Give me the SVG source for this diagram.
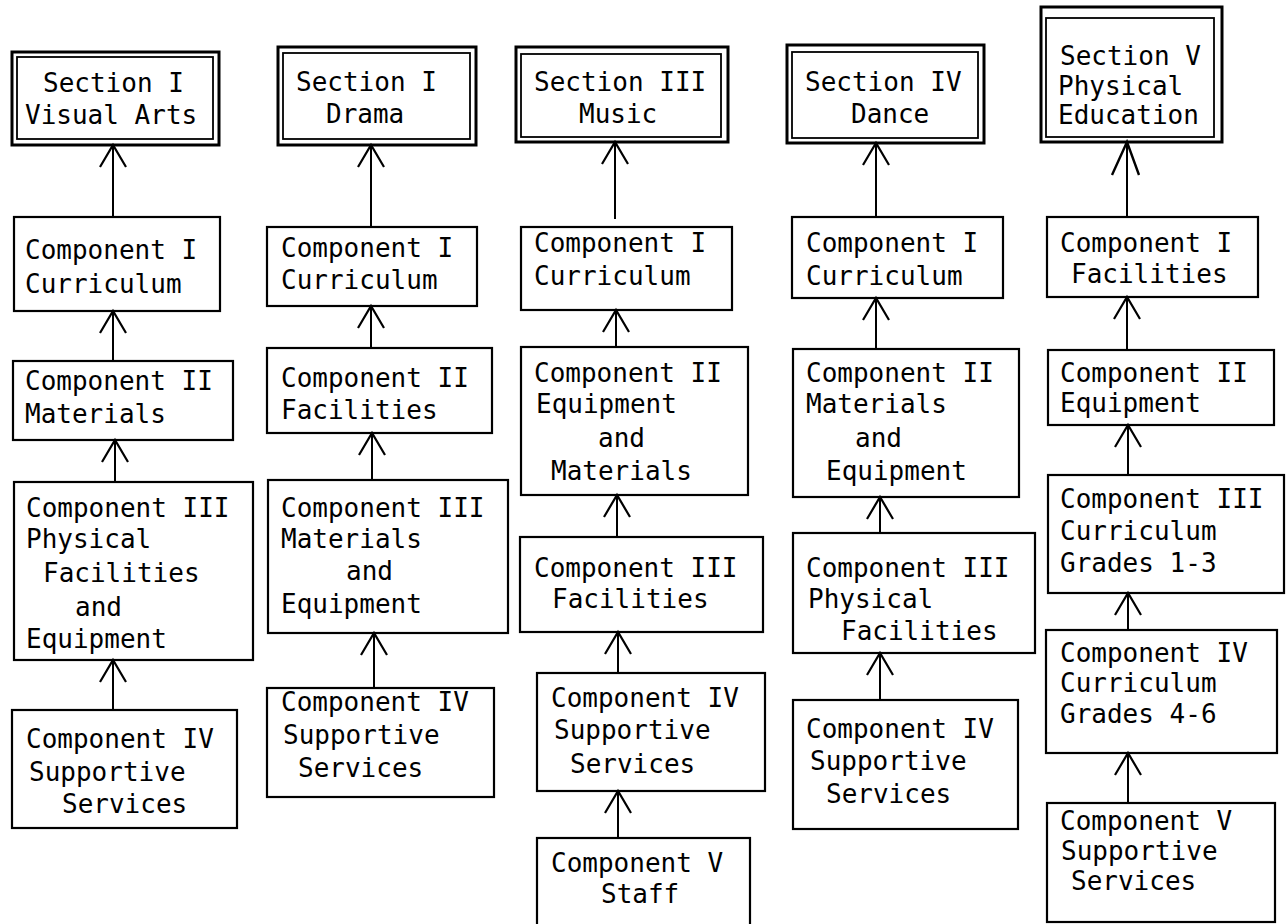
<svg xmlns="http://www.w3.org/2000/svg" width="1286" height="924" viewBox="0 0 1286 924">
<style>
.box{fill:none;stroke:#000;stroke-width:2.2}
.outer{fill:none;stroke:#000;stroke-width:3}
.inner{fill:none;stroke:#000;stroke-width:1.8}
.t{font-family:"DejaVu Sans Mono","Liberation Mono",monospace;font-size:26px;fill:#000}
.c{stroke:#000;stroke-width:2;fill:none;marker-end:url(#v)}
.c2{stroke:#000;stroke-width:2;fill:none;marker-end:url(#v2)}
</style>
<defs>
<marker id="v" markerUnits="userSpaceOnUse" viewBox="-25 -16 28 32" refX="0" refY="0" markerWidth="28" markerHeight="32" orient="auto">
<path d="M-22,-13 L0,0 L-22,13" fill="none" stroke="#000" stroke-width="2.2"/>
</marker>
<marker id="v2" markerUnits="userSpaceOnUse" viewBox="-36 -18 40 36" refX="0" refY="0" markerWidth="40" markerHeight="36" orient="auto">
<path d="M-33,-15 L0,0 L-33,12" fill="none" stroke="#000" stroke-width="2.4"/>
</marker>
</defs>
<rect width="1286" height="924" fill="#fff"/>

<g id="connectors">
<line class="c" x1="113" y1="217" x2="113" y2="145"/>
<line class="c" x1="113" y1="361" x2="113" y2="311"/>
<line class="c" x1="115" y1="482" x2="115" y2="440"/>
<line class="c" x1="113" y1="710" x2="113" y2="660"/>

<line class="c" x1="371" y1="227" x2="371" y2="145"/>
<line class="c" x1="371" y1="348" x2="371" y2="306"/>
<line class="c" x1="372" y1="480" x2="372" y2="433"/>
<line class="c" x1="374" y1="688" x2="374" y2="633"/>

<line class="c" x1="615" y1="219" x2="615" y2="142"/>
<line class="c" x1="616" y1="347" x2="616" y2="310"/>
<line class="c" x1="617" y1="537" x2="617" y2="495"/>
<line class="c" x1="618" y1="673" x2="618" y2="632"/>
<line class="c" x1="618" y1="838" x2="618" y2="791"/>

<line class="c" x1="876" y1="217" x2="876" y2="143"/>
<line class="c" x1="876" y1="349" x2="876" y2="298"/>
<line class="c" x1="880" y1="533" x2="880" y2="497"/>
<line class="c" x1="880" y1="700" x2="880" y2="653"/>

<line class="c2" x1="1127" y1="217" x2="1127" y2="142"/>
<line class="c" x1="1127" y1="350" x2="1127" y2="297"/>
<line class="c" x1="1128" y1="475" x2="1128" y2="425"/>
<line class="c" x1="1128" y1="630" x2="1128" y2="593"/>
<line class="c" x1="1128" y1="803" x2="1128" y2="753"/>
</g>

<!-- Column 1 -->
<g id="sec1">
<rect class="outer" x="12" y="52" width="207" height="93"/>
<rect class="inner" x="17" y="57" width="196" height="82"/>
<text class="t" x="43" y="92">Section I</text>
<text class="t" x="25" y="124">Visual Arts</text>
</g>
<g id="s1c1">
<rect class="box" x="14" y="217" width="206" height="94"/>
<text class="t" x="25" y="259">Component I</text>
<text class="t" x="25" y="293">Curriculum</text>
</g>
<g id="s1c2">
<rect class="box" x="13" y="361" width="220" height="79"/>
<text class="t" x="25" y="390">Component II</text>
<text class="t" x="25" y="423">Materials</text>
</g>
<g id="s1c3">
<rect class="box" x="14" y="482" width="239" height="178"/>
<text class="t" x="26" y="517">Component III</text>
<text class="t" x="26" y="548">Physical</text>
<text class="t" x="43" y="582">Facilities</text>
<text class="t" x="75" y="616">and</text>
<text class="t" x="26" y="648">Equipment</text>
</g>
<g id="s1c4">
<rect class="box" x="12" y="710" width="225" height="118"/>
<text class="t" x="26" y="748">Component IV</text>
<text class="t" x="29" y="781">Supportive</text>
<text class="t" x="62" y="813">Services</text>
</g>

<!-- Column 2 -->
<g id="sec2">
<rect class="outer" x="278" y="47" width="198" height="98"/>
<rect class="inner" x="283" y="53" width="187" height="86"/>
<text class="t" x="296" y="91">Section I</text>
<text class="t" x="326" y="123">Drama</text>
</g>
<g id="s2c1">
<rect class="box" x="267" y="227" width="210" height="79"/>
<text class="t" x="281" y="257">Component I</text>
<text class="t" x="281" y="289">Curriculum</text>
</g>
<g id="s2c2">
<rect class="box" x="267" y="348" width="225" height="85"/>
<text class="t" x="281" y="387">Component II</text>
<text class="t" x="281" y="419">Facilities</text>
</g>
<g id="s2c3">
<rect class="box" x="268" y="480" width="240" height="153"/>
<text class="t" x="281" y="517">Component III</text>
<text class="t" x="281" y="548">Materials</text>
<text class="t" x="346" y="580">and</text>
<text class="t" x="281" y="613">Equipment</text>
</g>
<g id="s2c4">
<rect class="box" x="267" y="688" width="227" height="109"/>
<text class="t" x="281" y="711">Component IV</text>
<text class="t" x="283" y="744">Supportive</text>
<text class="t" x="298" y="777">Services</text>
</g>

<!-- Column 3 -->
<g id="sec3">
<rect class="outer" x="516" y="47" width="212" height="95"/>
<rect class="inner" x="521" y="54" width="200" height="83"/>
<text class="t" x="534" y="91">Section III</text>
<text class="t" x="579" y="123">Music</text>
</g>
<g id="s3c1">
<rect class="box" x="521" y="227" width="211" height="83"/>
<text class="t" x="534" y="252">Component I</text>
<text class="t" x="534" y="285">Curriculum</text>
</g>
<g id="s3c2">
<rect class="box" x="521" y="347" width="227" height="148"/>
<text class="t" x="534" y="382">Component II</text>
<text class="t" x="536" y="413">Equipment</text>
<text class="t" x="598" y="447">and</text>
<text class="t" x="551" y="480">Materials</text>
</g>
<g id="s3c3">
<rect class="box" x="520" y="537" width="243" height="95"/>
<text class="t" x="534" y="577">Component III</text>
<text class="t" x="552" y="608">Facilities</text>
</g>
<g id="s3c4">
<rect class="box" x="537" y="673" width="228" height="118"/>
<text class="t" x="551" y="707">Component IV</text>
<text class="t" x="554" y="739">Supportive</text>
<text class="t" x="570" y="773">Services</text>
</g>
<g id="s3c5">
<rect class="box" x="537" y="838" width="213" height="100"/>
<text class="t" x="551" y="872">Component V</text>
<text class="t" x="601" y="903">Staff</text>
</g>

<!-- Column 4 -->
<g id="sec4">
<rect class="outer" x="787" y="45" width="197" height="98"/>
<rect class="inner" x="792" y="52" width="186" height="86"/>
<text class="t" x="805" y="91">Section IV</text>
<text class="t" x="851" y="123">Dance</text>
</g>
<g id="s4c1">
<rect class="box" x="792" y="217" width="211" height="81"/>
<text class="t" x="806" y="252">Component I</text>
<text class="t" x="806" y="285">Curriculum</text>
</g>
<g id="s4c2">
<rect class="box" x="793" y="349" width="226" height="148"/>
<text class="t" x="806" y="382">Component II</text>
<text class="t" x="806" y="413">Materials</text>
<text class="t" x="855" y="447">and</text>
<text class="t" x="826" y="480">Equipment</text>
</g>
<g id="s4c3">
<rect class="box" x="793" y="533" width="242" height="120"/>
<text class="t" x="806" y="577">Component III</text>
<text class="t" x="808" y="608">Physical</text>
<text class="t" x="841" y="640">Facilities</text>
</g>
<g id="s4c4">
<rect class="box" x="793" y="700" width="225" height="129"/>
<text class="t" x="806" y="738">Component IV</text>
<text class="t" x="810" y="770">Supportive</text>
<text class="t" x="826" y="803">Services</text>
</g>

<!-- Column 5 -->
<g id="sec5">
<rect class="outer" x="1041" y="7" width="181" height="135"/>
<rect class="inner" x="1046" y="18" width="168" height="119"/>
<text class="t" x="1060" y="65">Section V</text>
<text class="t" x="1058" y="95">Physical</text>
<text class="t" x="1058" y="124">Education</text>
</g>
<g id="s5c1">
<rect class="box" x="1047" y="217" width="211" height="80"/>
<text class="t" x="1060" y="252">Component I</text>
<text class="t" x="1071" y="283">Facilities</text>
</g>
<g id="s5c2">
<rect class="box" x="1048" y="350" width="226" height="75"/>
<text class="t" x="1060" y="382">Component II</text>
<text class="t" x="1060" y="412">Equipment</text>
</g>
<g id="s5c3">
<rect class="box" x="1048" y="475" width="236" height="118"/>
<text class="t" x="1060" y="508">Component III</text>
<text class="t" x="1060" y="540">Curriculum</text>
<text class="t" x="1060" y="572">Grades 1-3</text>
</g>
<g id="s5c4">
<rect class="box" x="1046" y="630" width="231" height="123"/>
<text class="t" x="1060" y="662">Component IV</text>
<text class="t" x="1060" y="692">Curriculum</text>
<text class="t" x="1060" y="723">Grades 4-6</text>
</g>
<g id="s5c5">
<rect class="box" x="1047" y="803" width="228" height="119"/>
<text class="t" x="1060" y="830">Component V</text>
<text class="t" x="1061" y="860">Supportive</text>
<text class="t" x="1071" y="890">Services</text>
</g>
</svg>
